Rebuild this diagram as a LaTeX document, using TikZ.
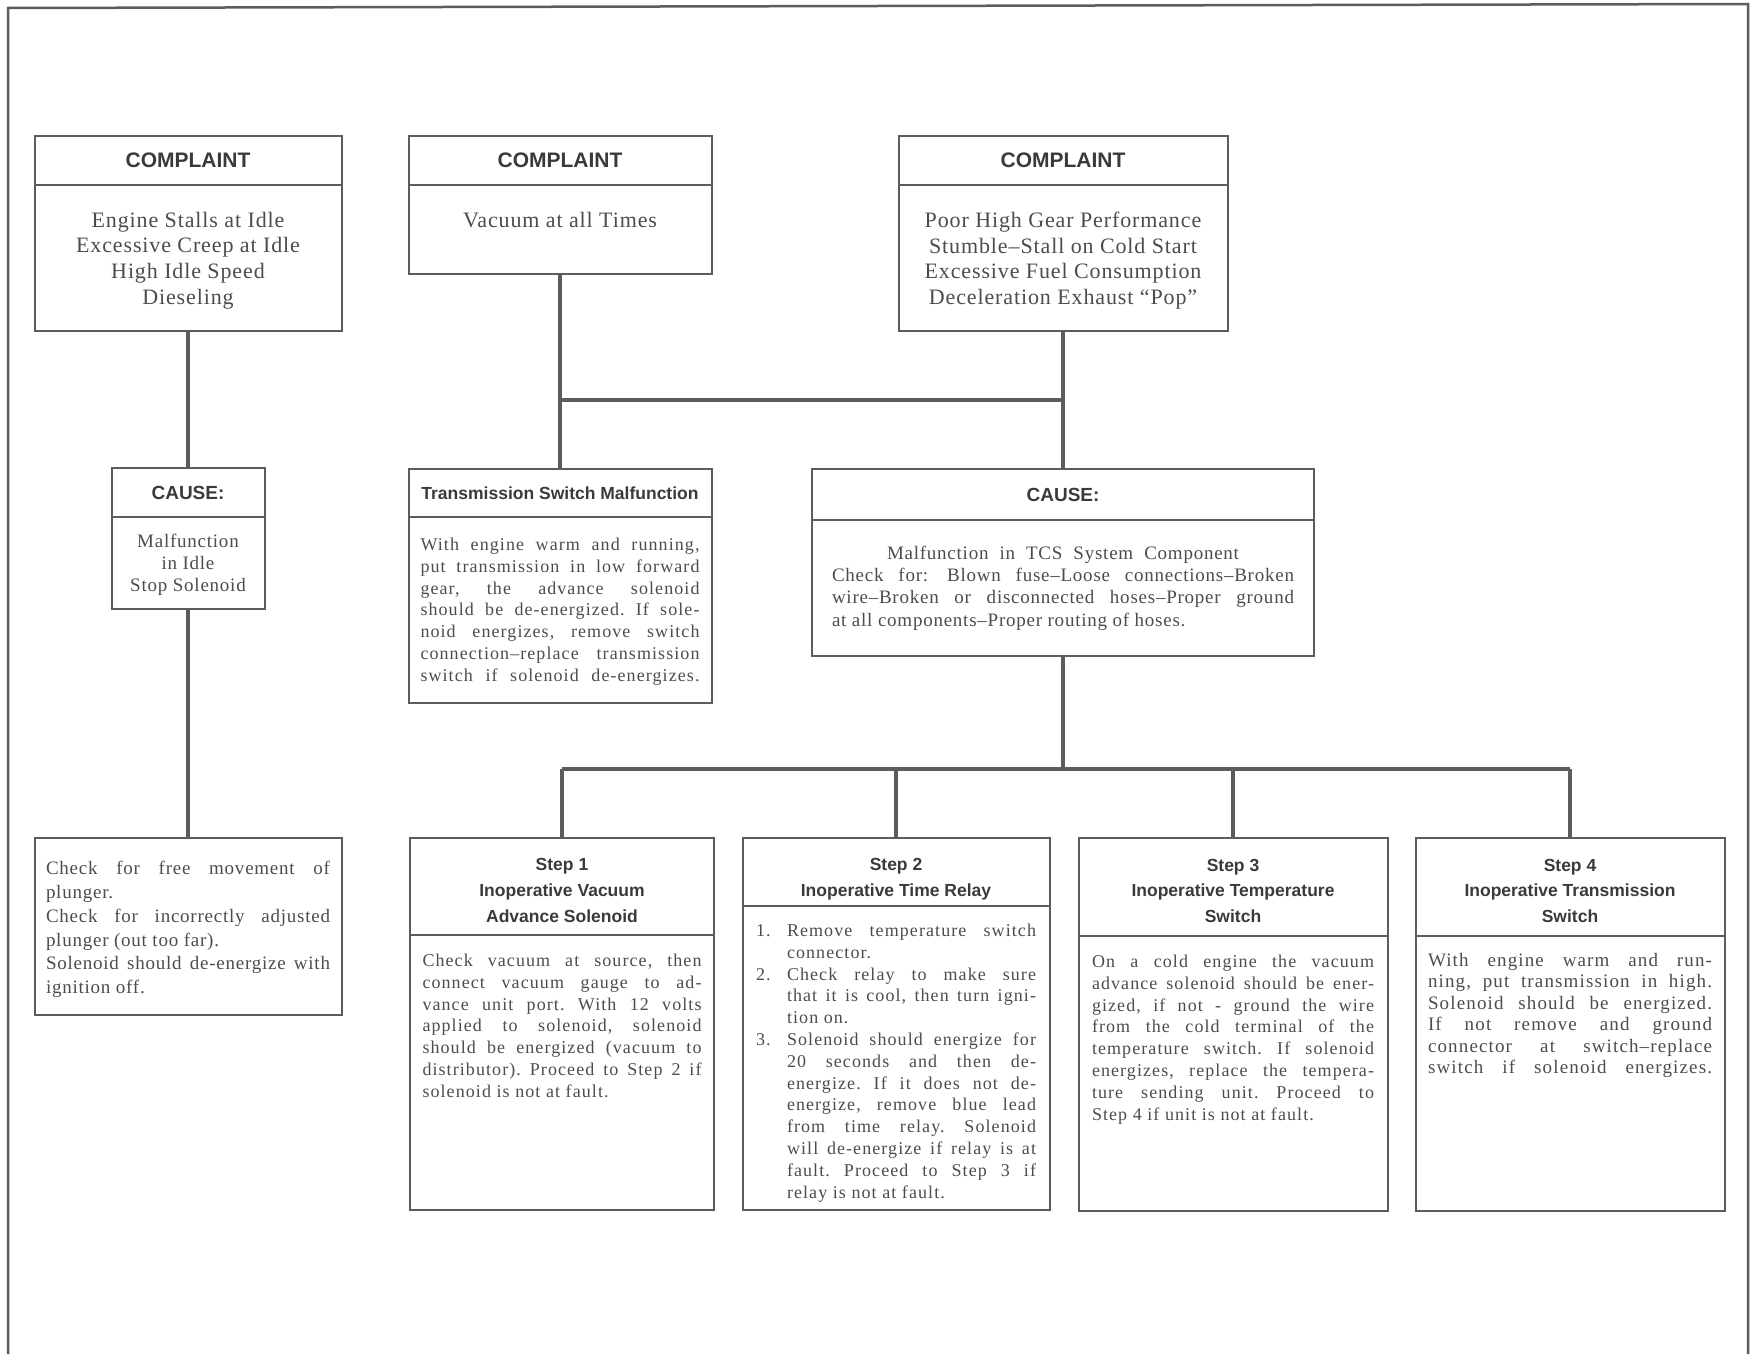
\documentclass[tikz,border=0pt]{standalone}
\usepackage{fontspec}
\newfontfamily\bodyfont[LetterSpace=4]{Liberation Serif}
\newfontfamily\stepfont[LetterSpace=6]{Liberation Serif}
\newfontfamily\hdrfont{Liberation Sans}
\usetikzlibrary{positioning}
\definecolor{rulegray}{HTML}{5C5C5C}
\definecolor{inkgray}{HTML}{4C4C4C}
\definecolor{headgray}{HTML}{3A3A3A}
\newcommand{\inbox}[4]{\parbox[c][#1][t]{#2}{\vspace*{#3}#4}}
\newcommand{\listno}[1]{\hangindent=31pt\hangafter=1\noindent\makebox[31pt][l]{#1}}
\tolerance=10000 \hbadness=10000
\frenchspacing

\begin{document}
\begin{tikzpicture}[x=1pt, y=-1pt,
  hdr/.style={draw=rulegray, line width=2pt, anchor=north, inner sep=0pt, outer sep=0pt, align=center,
    text=headgray, font=\hdrfont\bfseries\fontsize{17.5}{25.7}\selectfont},
  bigh/.style={hdr, font=\hdrfont\bfseries\fontsize{21}{24}\selectfont},
  bdy/.style={draw=rulegray, line width=2pt, anchor=north, inner sep=0pt, outer sep=0pt,
    text=inkgray, font=\stepfont\fontsize{18}{21.8}\selectfont},
  wire/.style={draw=rulegray, line width=4.5pt}]
\useasboundingbox (0,0) rectangle (1752,1354);
\draw[rulegray, line width=2.5pt] (8,1354) -- (8,8) -- (1748,4) -- (1748,1354);

% complaints
\node[bigh, minimum width=307pt, minimum height=49pt] (c1h) at (188,136) {COMPLAINT};
\node[bdy, minimum width=307pt, font=\bodyfont\fontsize{22}{25.7}\selectfont] (c1b) at (c1h.south)
  {\inbox{146pt}{290pt}{27pt}{\centering Engine Stalls at Idle\\ Excessive Creep at Idle\\ High Idle Speed\\ Dieseling}};
\node[bigh, minimum width=303pt, minimum height=49pt] (c2h) at (560,136) {COMPLAINT};
\node[bdy, minimum width=303pt, font=\bodyfont\fontsize{22}{25.7}\selectfont] (c2b) at (c2h.south)
  {\inbox{89pt}{290pt}{27pt}{\centering Vacuum at all Times}};
\node[bigh, minimum width=329pt, minimum height=49pt] (c3h) at (1063,136) {COMPLAINT};
\node[bdy, minimum width=329pt, font=\bodyfont\fontsize{22}{25.7}\selectfont] (c3b) at (c3h.south)
  {\inbox{146pt}{310pt}{27pt}{\centering Poor High Gear Performance\\ Stumble–Stall on Cold Start\\ Excessive Fuel Consumption\\ Deceleration Exhaust “Pop”}};

% causes
\node[hdr, minimum width=153pt, minimum height=49pt, font=\hdrfont\bfseries\fontsize{19}{22}\selectfont] (k1h) at (188,468) {CAUSE:};
\node[bdy, minimum width=153pt, font=\bodyfont\fontsize{19}{22}\selectfont] (k1b) at (k1h.south)
  {\inbox{92pt}{145pt}{17pt}{\centering Malfunction\\ in Idle\\ Stop Solenoid}};
\node[hdr, minimum width=303pt, minimum height=48pt] (trh) at (560,469) {Transmission Switch Malfunction};
\node[bdy, minimum width=303pt] (trb) at (trh.south)
  {\inbox{186pt}{279pt}{21pt}{\parfillskip=0pt With engine warm and running,\linebreak put transmission in low forward\linebreak gear, the advance solenoid\linebreak should be de-energized. If sole-\linebreak noid energizes, remove switch\linebreak connection–replace transmission\linebreak switch if solenoid de-energizes.}};
\node[hdr, minimum width=502pt, minimum height=51pt, font=\hdrfont\bfseries\fontsize{19}{22}\selectfont] (tch) at (1063,469) {CAUSE:};
\node[bdy, minimum width=502pt, font=\bodyfont\fontsize{19}{22.3}\selectfont] (tcb) at (tch.south)
  {\inbox{136pt}{462pt}{26pt}{{\centering Malfunction\ \ in\ \ TCS\ \ System\ \ Component\par}
   Check for:\quad Blown fuse–Loose connections–Broken\linebreak wire–Broken or disconnected hoses–Proper ground\linebreak at all components–Proper routing of hoses.}};

% checks
\node[bdy, minimum width=307pt, font=\bodyfont\fontsize{19}{23.9}\selectfont] (ck) at (188,838)
  {\inbox{177pt}{284pt}{23pt}{Check for free movement of\linebreak plunger.\par
   Check for incorrectly adjusted\linebreak plunger (out too far).\par
   Solenoid should de-energize with\linebreak ignition off.}};
\node[hdr, minimum width=304pt, minimum height=97pt] (s1h) at (562,838) {\rule{0pt}{20pt}Step 1\\Inoperative Vacuum\\Advance Solenoid};
\node[bdy, minimum width=304pt] (s1b) at (s1h.south)
  {\inbox{275pt}{279pt}{19pt}{Check vacuum at source, then\linebreak connect vacuum gauge to ad-\linebreak vance unit port. With 12 volts\linebreak applied to solenoid, solenoid\linebreak should be energized (vacuum to\linebreak distributor). Proceed to Step 2 if\linebreak solenoid is not at fault.}};
\node[hdr, minimum width=307pt, minimum height=68pt] (s2h) at (896,838) {\rule{0pt}{26pt}Step 2\\Inoperative Time Relay};
\node[bdy, minimum width=307pt] (s2b) at (s2h.south)
  {\inbox{304pt}{280pt}{18pt}{\listno{1.}Remove temperature switch\linebreak connector.\par
   \listno{2.}Check relay to make sure\linebreak that it is cool, then turn igni-\linebreak tion on.\par
   \listno{3.}Solenoid should energize for\linebreak 20 seconds and then de-\linebreak energize. If it does not de-\linebreak energize, remove blue lead\linebreak from time relay. Solenoid\linebreak will de-energize if relay is at\linebreak fault. Proceed to Step 3 if\linebreak relay is not at fault.}};
\node[hdr, minimum width=309pt, minimum height=98pt] (s3h) at (1233,838) {\rule{0pt}{20pt}Step 3\\Inoperative Temperature\\Switch};
\node[bdy, minimum width=309pt] (s3b) at (s3h.south)
  {\inbox{275pt}{282pt}{19pt}{On a cold engine the vacuum\linebreak advance solenoid should be ener-\linebreak gized, if not - ground the wire\linebreak from the cold terminal of the\linebreak temperature switch. If solenoid\linebreak energizes, replace the tempera-\linebreak ture sending unit. Proceed to\linebreak Step 4 if unit is not at fault.}};
\node[hdr, minimum width=309pt, minimum height=98pt] (s4h) at (1570,838) {\rule{0pt}{20pt}Step 4\\Inoperative Transmission\\Switch};
\node[bdy, minimum width=309pt, font=\stepfont\fontsize{19}{21.5}\selectfont] (s4b) at (s4h.south)
  {\inbox{275pt}{284pt}{17pt}{\parfillskip=0pt With engine warm and run-\linebreak ning, put transmission in high.\linebreak Solenoid should be energized.\linebreak If not remove and ground\linebreak connector at switch–replace\linebreak switch if solenoid energizes.}};

% connectors
\coordinate (jn) at (0,400);
\coordinate (bus) at (0,769);
\draw[wire] (c1b.south) -- (k1h.north);
\draw[wire] (k1b.south) -- (ck.north);
\draw[wire] (c2b.south) -- (trh.north);
\draw[wire] (c3b.south) -- (tch.north);
\draw[wire] (c2b.south |- jn) -- (c3b.south |- jn);
\draw[wire] (tcb.south) -- (tcb.south |- bus);
\draw[wire] (s1h.north |- bus) -- (s4h.north |- bus);
\foreach \s in {s1h,s2h,s3h,s4h}
  \draw[wire] (\s.north |- bus) -- (\s.north);
\end{tikzpicture}
\end{document}
